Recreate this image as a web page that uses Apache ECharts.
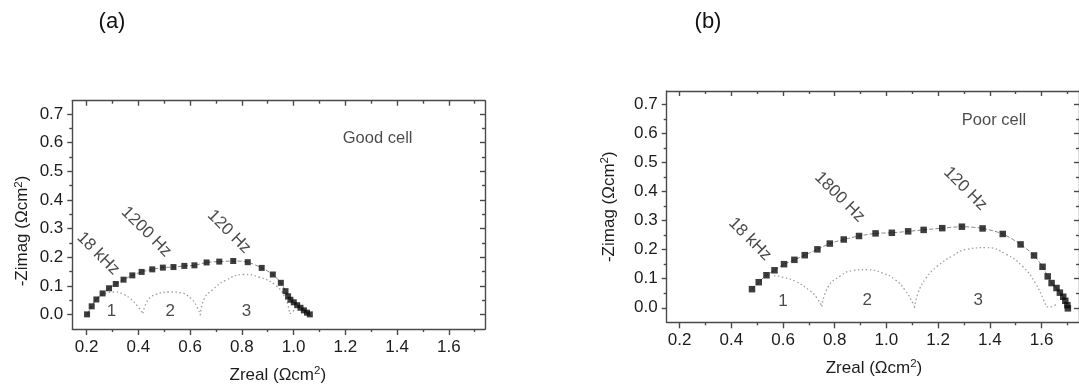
<!DOCTYPE html>
<html>
<head>
<meta charset="utf-8">
<title>Impedance spectra: good cell vs poor cell</title>
<script src="https://cdn.jsdelivr.net/npm/echarts@6/dist/echarts.min.js"></script>
<style>
  html, body { margin: 0; padding: 0; background: #ffffff; }
  #chart { width: 1079px; height: 387px; }
</style>
</head>
<body>
<div id="chart"></div>
<script>
// ---- axis ticks and labels ----
const xTickValues = [0.2, 0.4, 0.6, 0.8, 1.0, 1.2, 1.4, 1.6];
const xTickLabels = ['0.2', '0.4', '0.6', '0.8', '1.0', '1.2', '1.4', '1.6'];
const xMinorValues = [0.3, 0.5, 0.7, 0.9, 1.1, 1.3, 1.5, 1.7];
const yTickValues = [0.0, 0.1, 0.2, 0.3, 0.4, 0.5, 0.6, 0.7];
const yTickLabels = ['0.0', '0.1', '0.2', '0.3', '0.4', '0.5', '0.6', '0.7'];
const yMinorValues = [0.05, 0.15, 0.25, 0.35, 0.45, 0.55, 0.65];

// ---- (a) good cell: measured spectrum ----
const goodZreal = [0.202, 0.220, 0.238, 0.262, 0.287, 0.313, 0.343, 0.377, 0.413, 0.454,
  0.495, 0.536, 0.578, 0.617, 0.664, 0.713, 0.767, 0.823, 0.877, 0.920,
  0.951, 0.969, 0.979, 0.988, 1.001, 1.014, 1.027, 1.040, 1.052, 1.063];
const goodZimag = [0.001, 0.029, 0.053, 0.074, 0.092, 0.107, 0.122, 0.137, 0.149, 0.158,
  0.164, 0.166, 0.170, 0.172, 0.182, 0.185, 0.187, 0.183, 0.163, 0.140,
  0.111, 0.082, 0.064, 0.052, 0.043, 0.033, 0.024, 0.015, 0.007, 0.001];

// (a) deconvoluted arcs
const goodArc1 = [[0.205, 0.0], [0.222, 0.035], [0.247, 0.060], [0.277, 0.075], [0.31, 0.079],
  [0.345, 0.070], [0.37, 0.055], [0.395, 0.032], [0.418, 0.005]];
const goodArc2 = [[0.418, 0.005], [0.437, 0.050], [0.469, 0.071], [0.52, 0.079], [0.565, 0.076],
  [0.604, 0.056], [0.626, 0.029], [0.64, -0.002]];
const goodArc3 = [[0.64, -0.002], [0.655, 0.056], [0.687, 0.087], [0.738, 0.120], [0.809, 0.140],
  [0.867, 0.131], [0.931, 0.102], [0.969, 0.056], [0.985, 0.003]];
const goodArc4 = [[0.985, 0.003], [0.995, 0.009], [1.003, 0.016]];

// ---- (b) poor cell: measured spectrum ----
const poorZreal = [0.480, 0.506, 0.536, 0.567, 0.604, 0.644, 0.684, 0.733, 0.781, 0.835,
  0.894, 0.958, 1.021, 1.084, 1.144, 1.216, 1.292, 1.372, 1.450, 1.519,
  1.571, 1.604, 1.624, 1.639, 1.658, 1.671, 1.684, 1.692, 1.700, 1.702];
const poorZimag = [0.064, 0.088, 0.112, 0.129, 0.150, 0.165, 0.181, 0.201, 0.221, 0.235,
  0.247, 0.256, 0.258, 0.263, 0.268, 0.274, 0.279, 0.273, 0.254, 0.218,
  0.180, 0.141, 0.108, 0.085, 0.068, 0.052, 0.038, 0.024, 0.009, -0.002];

// (b) deconvoluted arcs
const poorArc1 = [[0.565, 0.110], [0.60, 0.105], [0.65, 0.090], [0.705, 0.058], [0.73, 0.035], [0.75, 0.005]];
const poorArc2 = [[0.75, 0.005], [0.775, 0.073], [0.819, 0.108], [0.869, 0.128], [0.926, 0.131],
  [0.983, 0.120], [1.033, 0.097], [1.071, 0.062], [1.103, 0.015], [1.109, 0.0]];
const poorArc3 = [[1.109, 0.0], [1.122, 0.050], [1.153, 0.102], [1.197, 0.143], [1.254, 0.178],
  [1.311, 0.201], [1.387, 0.207], [1.463, 0.184], [1.526, 0.143], [1.576, 0.085],
  [1.608, 0.027], [1.62, 0.003]];
const poorArc4 = [[1.62, 0.003], [1.64, 0.003], [1.655, 0.012]];

// ---- annotations ----
const goodFreqNames = ['18 kHz', '1200 Hz', '120 Hz'];
const goodFreqPos = [[0.245, 0.213], [0.431, 0.289], [0.751, 0.289]];
const poorFreqNames = ['18 kHz', '1800 Hz', '120 Hz'];
const poorFreqPos = [[0.472, 0.236], [0.819, 0.381], [1.305, 0.410]];
const arcNames = ['1', '2', '3'];
const goodArcNamePos = [[0.296, 0.012], [0.523, 0.012], [0.818, 0.012]];
const poorArcNamePos = [[0.60, 0.022], [0.926, 0.026], [1.355, 0.026]];
const cellNames = ['Good cell', 'Poor cell'];
const cellNamePos = [[1.325, 0.616], [1.416, 0.646]];

const FONT = 'Liberation Sans, Arial, sans-serif';
const TEXT = '#1c1c1c';
const FRAME = '#4a4a4a';

function zip(xs, ys) { return xs.map((x, i) => [x, ys[i]]); }

// four x axes + four y axes per panel: labelled bottom/left, minor ticks, and mirrored top/right
function panelAxes(gridIndex, xr, yr) {
  const line = { color: FRAME, width: 1.4 };
  const xBase = { type: 'value', gridIndex, min: xr[0], max: xr[1], splitLine: { show: false } };
  const yBase = { type: 'value', gridIndex, min: yr[0], max: yr[1], splitLine: { show: false } };
  const xAxes = [
    Object.assign({}, xBase, {
      position: 'bottom',
      axisLine: { onZero: false, lineStyle: line },
      axisTick: { customValues: xTickValues, length: 6, lineStyle: line },
      axisLabel: { customValues: xTickValues, margin: 10, color: TEXT, fontFamily: FONT, fontSize: 17,
        formatter: v => xTickLabels[xTickValues.findIndex(t => Math.abs(t - v) < 1e-6)] }
    }),
    Object.assign({}, xBase, {
      position: 'bottom',
      axisLine: { show: false, onZero: false },
      axisTick: { customValues: xMinorValues, length: 3, lineStyle: line },
      axisLabel: { show: false }
    }),
    Object.assign({}, xBase, {
      position: 'top',
      axisLine: { onZero: false, lineStyle: line },
      axisTick: { customValues: xTickValues, inside: true, length: 5, lineStyle: line },
      axisLabel: { show: false }
    }),
    Object.assign({}, xBase, {
      position: 'top',
      axisLine: { show: false, onZero: false },
      axisTick: { customValues: xMinorValues, inside: true, length: 3, lineStyle: line },
      axisLabel: { show: false }
    })
  ];
  const yAxes = [
    Object.assign({}, yBase, {
      position: 'left',
      axisLine: { onZero: false, lineStyle: line },
      axisTick: { customValues: yTickValues, length: 5, lineStyle: line },
      axisLabel: { customValues: yTickValues, margin: 9, color: TEXT, fontFamily: FONT, fontSize: 17,
        formatter: v => yTickLabels[yTickValues.findIndex(t => Math.abs(t - v) < 1e-6)] }
    }),
    Object.assign({}, yBase, {
      position: 'left',
      axisLine: { show: false, onZero: false },
      axisTick: { customValues: yMinorValues, length: 3, lineStyle: line },
      axisLabel: { show: false }
    }),
    Object.assign({}, yBase, {
      position: 'right',
      axisLine: { onZero: false, lineStyle: line },
      axisTick: { customValues: yTickValues, inside: true, length: 5, lineStyle: line },
      axisLabel: { show: false }
    }),
    Object.assign({}, yBase, {
      position: 'right',
      axisLine: { show: false, onZero: false },
      axisTick: { customValues: yMinorValues, inside: true, length: 3, lineStyle: line },
      axisLabel: { show: false }
    })
  ];
  return { xAxes, yAxes };
}

const axA = panelAxes(0, [0.145, 1.74], [-0.05, 0.746]);
const axB = panelAxes(1, [0.15, 1.745], [-0.05, 0.746]);

function panelSeries(xi, yi, pts, arcs, symSize, freqNames, freqPos, arcPos, cellIdx) {
  const out = [];
  // thin fitted curve through the measured points
  out.push({ type: 'line', xAxisIndex: xi, yAxisIndex: yi, data: pts, smooth: 0.3, symbol: 'none',
    lineStyle: { color: '#8a8a8a', width: 1, type: [4, 2] }, z: 2 });
  arcs.forEach(a => out.push({ type: 'line', xAxisIndex: xi, yAxisIndex: yi, data: a, smooth: 0.5,
    symbol: 'none', lineStyle: { color: '#a0a0a0', width: 1.3, type: [1.5, 2.5] }, z: 2 }));
  out.push({ type: 'scatter', xAxisIndex: xi, yAxisIndex: yi, data: pts, symbol: 'rect',
    symbolSize: symSize, itemStyle: { color: '#0d0d0d' }, z: 3 });
  const lbl = (names, pos, extra) => ({
    type: 'scatter', xAxisIndex: xi, yAxisIndex: yi, symbolSize: 1, silent: true, z: 4,
    itemStyle: { color: 'rgba(0,0,0,0)' },
    data: names.map((n, i) => ({ name: n, value: pos[i] })),
    label: Object.assign({ show: true, position: 'inside', formatter: '{b}', color: TEXT,
      fontFamily: FONT, fontSize: 17 }, extra)
  });
  out.push(lbl(freqNames, freqPos, { rotate: -45 }));
  out.push(lbl(arcNames, arcPos, {}));
  out.push(lbl([cellNames[cellIdx]], [cellNamePos[cellIdx]], { fontSize: 16.5 }));
  return out;
}

const series = [].concat(
  panelSeries(0, 0, zip(goodZreal, goodZimag), [goodArc1, goodArc2, goodArc3, goodArc4], 6,
    goodFreqNames, goodFreqPos, goodArcNamePos, 0),
  panelSeries(4, 4, zip(poorZreal, poorZimag), [poorArc1, poorArc2, poorArc3, poorArc4], 6.5,
    poorFreqNames, poorFreqPos, poorArcNamePos, 1)
);

const nameRich = { s: { fontSize: 11.5, fontFamily: FONT, color: TEXT, verticalAlign: 'top', lineHeight: 20 } };
function nameText(x, y, rot, text) {
  return { type: 'text', x, y, rotation: rot, silent: true,
    style: { text, fill: TEXT, font: '17px ' + FONT, align: 'center', verticalAlign: 'middle',
      rich: nameRich } };
}

const chart = echarts.init(document.getElementById('chart'), null, { renderer: 'canvas' });
chart.setOption({
  animation: false,
  backgroundColor: '#ffffff',
  grid: [
    { left: 72.3, top: 100.7, width: 412.7, height: 228.3 },
    { left: 666.7, top: 91, width: 419.6, height: 231.3 }
  ],
  xAxis: axA.xAxes.concat(axB.xAxes),
  yAxis: axA.yAxes.concat(axB.yAxes),
  series,
  graphic: [
    { type: 'text', x: 112, y: 22, silent: true,
      style: { text: '(a)', fill: '#111', font: '22px ' + FONT, align: 'center', verticalAlign: 'middle' } },
    { type: 'text', x: 708, y: 22, silent: true,
      style: { text: '(b)', fill: '#111', font: '22px ' + FONT, align: 'center', verticalAlign: 'middle' } },
    nameText(22.5, 231, Math.PI / 2, '-Zimag (Ωcm{s|2})'),
    nameText(609, 206.7, Math.PI / 2, '-Zimag (Ωcm{s|2})'),
    nameText(277.8, 375, 0, 'Zreal (Ωcm{s|2})'),
    nameText(874, 368.3, 0, 'Zreal (Ωcm{s|2})')
  ]
});
</script>
</body>
</html>
